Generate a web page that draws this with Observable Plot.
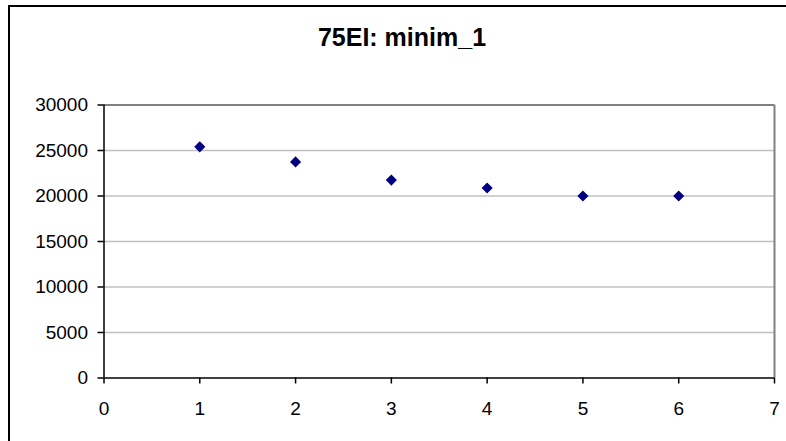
<!DOCTYPE html>
<html>
<head>
<meta charset="utf-8">
<script src="https://cdn.jsdelivr.net/npm/d3@7"></script>
<script src="https://cdn.jsdelivr.net/npm/@observablehq/plot@0.6"></script>
<style>
  html, body { margin: 0; padding: 0; background: #fff; overflow: hidden; }
  #wrap { position: relative; width: 786px; height: 441px; }
  #border { position: absolute; left: 8px; top: 5px; width: 800px; height: 460px; border: 2px solid #000; box-sizing: border-box; pointer-events: none; }
  #title { position: absolute; left: 0; width: 804px; top: 22px; text-align: center; font-family: "Liberation Sans", Arial, sans-serif; font-weight: bold; font-size: 25px; line-height: 30px; color: #000; }
  svg { position: absolute; left: 0; top: 0; }
</style>
</head>
<body>
<div id="wrap">
  <div id="title">75EI: minim_1</div>
  <div id="border"></div>
</div>
<script>
const xValues = [1, 2, 3, 4, 5, 6];
const yValues = [25400, 23750, 21750, 20880, 20000, 20000];
const xTicks = [0, 1, 2, 3, 4, 5, 6, 7];
const yTicks = [0, 5000, 10000, 15000, 20000, 25000, 30000];
const gridValues = [5000, 10000, 15000, 20000, 25000];

const data = xValues.map((x, i) => ({x, y: yValues[i]}));

const chart = Plot.plot({
  width: 786,
  height: 441,
  marginLeft: 103.5,
  marginRight: 12,
  marginTop: 104.5,
  marginBottom: 63.5,
  style: { fontFamily: "'Liberation Sans', Arial, sans-serif", fontSize: "19px", color: "#000", background: "transparent", overflow: "visible" },
  x: { domain: [0, 7] },
  y: { domain: [0, 30000] },
  marks: [
    Plot.ruleY(gridValues, { stroke: "#c0c0c0", strokeWidth: 1.5 }),
    Plot.ruleY([30000], { stroke: "#808080", strokeWidth: 2 }),
    Plot.ruleX([7], { stroke: "#808080", strokeWidth: 2 }),
    Plot.axisX({ ticks: xTicks, tickSize: 6, tickPadding: 17, tickFormat: d => String(d), label: null, stroke: "#000", strokeWidth: 1.5 }),
    Plot.axisY({ ticks: yTicks, tickSize: 6, tickPadding: 10, tickFormat: d => String(d), label: null, stroke: "#000", strokeWidth: 1.5 }),
    Plot.ruleX([0], { stroke: "#000", strokeWidth: 1.5 }),
    Plot.ruleY([0], { stroke: "#000", strokeWidth: 1.5 }),
    Plot.dot(data, { x: "x", y: "y", symbol: "diamond2", r: 5, fill: "#000080", stroke: "none" })
  ]
});
document.getElementById("wrap").prepend(chart);
</script>
</body>
</html>
